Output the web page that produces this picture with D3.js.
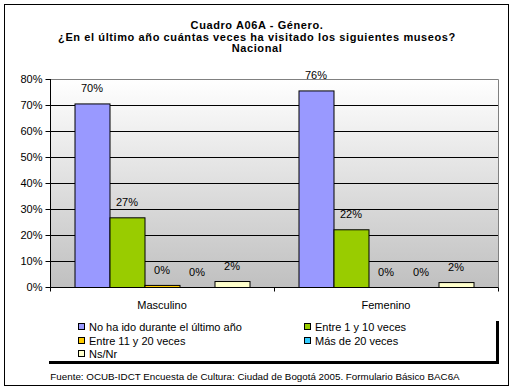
<!DOCTYPE html>
<html><head><meta charset="utf-8">
<script src="https://cdn.jsdelivr.net/npm/d3@7"></script>
<style>
body{margin:0;background:#fff;}
svg{display:block;font-family:"Liberation Sans",Arial,sans-serif;}
</style></head><body>
<svg id="c" width="515" height="391"></svg>
<script>
const categories = ["Masculino", "Femenino"];
const seriesNames = ["No ha ido durante el último año", "Entre 1 y 10 veces", "Entre 11 y  20 veces", "Más de 20 veces", "Ns/Nr"];
const seriesColors = ["#9999FF", "#99CC00", "#FFCC00", "#33CCFF", "#FFFFCC"];
const valuesMasculino = [70.6, 26.8, 0.8, 0, 2.3];
const valuesFemenino = [75.6, 22.2, 0, 0, 1.9];
const labelsMasculino = ["70%", "27%", "0%", "0%", "2%"];
const labelsFemenino = ["76%", "22%", "0%", "0%", "2%"];
const yTicks = [0, 10, 20, 30, 40, 50, 60, 70, 80];
const titleLines = ["Cuadro A06A - Género.", "¿En el último año cuántas veces ha visitado los siguientes museos?", "Nacional"];
const sourceText = "Fuente: OCUB-IDCT Encuesta de Cultura: Ciudad de Bogotá 2005. Formulario Básico BAC6A";

const data = [
  {cat: categories[0], vals: valuesMasculino, labels: labelsMasculino},
  {cat: categories[1], vals: valuesFemenino, labels: labelsFemenino}
];

const svg = d3.select("#c");
const L = 50, R = 498, T = 79, B = 287;

// outer border
svg.append("rect").attr("x", 4.5).attr("y", 4.5).attr("width", 504).attr("height", 381)
  .attr("fill", "#fff").attr("stroke", "#000").attr("stroke-width", 1);

// title
titleLines.forEach((t, i) => {
  svg.append("text").attr("x", 257).attr("y", 29 + i * 11.5)
    .attr("text-anchor", "middle").attr("font-weight", "bold").attr("font-size", 11)
    .attr("letter-spacing", 0.6)
    .text(t);
});

const y = d3.scaleLinear().domain([0, 80]).range([B, T]);
const x0 = d3.scaleBand().domain(categories).range([L, R]);
const bw = x0.bandwidth();
const x1 = d3.scaleBand().domain(seriesNames).range([24.5, bw - 24.5]);

// gradient background
const defs = svg.append("defs");
const g = defs.append("linearGradient").attr("id", "bg").attr("x1", 0).attr("y1", 0).attr("x2", 0).attr("y2", 1);
g.append("stop").attr("offset", "0%").attr("stop-color", "#ffffff");
g.append("stop").attr("offset", "100%").attr("stop-color", "#c0c0c0");
svg.append("rect").attr("x", L).attr("y", T).attr("width", R - L).attr("height", B - T).attr("fill", "url(#bg)");

// gridlines
svg.append("g").selectAll("line").data(yTicks.filter(v => v > 0 && v < 80)).join("line")
  .attr("x1", L).attr("x2", R).attr("y1", d => y(d) + 0.5).attr("y2", d => y(d) + 0.5)
  .attr("stroke", "#000").attr("stroke-width", 1);
// top & right border (gray)
svg.append("path").attr("d", `M${L},${T + 0.5}H${R + 0.5}V${B}`).attr("fill", "none").attr("stroke", "#808080");

// bars
const groups = svg.append("g").selectAll("g").data(data).join("g")
  .attr("transform", d => `translate(${x0(d.cat)},0)`);
groups.selectAll("rect").data(d => d.vals.map((v, i) => ({v, i}))).join("rect")
  .attr("x", d => x1(seriesNames[d.i]) + 0.5)
  .attr("y", d => y(d.v) + 0.5)
  .attr("width", x1.bandwidth())
  .attr("height", d => Math.max(0, B - y(d.v)))
  .attr("fill", d => seriesColors[d.i])
  .attr("stroke", "#000").attr("stroke-width", 1)
  .style("display", d => d.v > 0 ? null : "none");
groups.selectAll("text").data(d => d.vals.map((v, i) => ({v, i, lab: d.labels[i]}))).join("text")
  .attr("x", d => x1(seriesNames[d.i]) + x1.bandwidth() / 2)
  .attr("y", d => y(d.v) - 11)
  .attr("text-anchor", "middle").attr("font-size", 11)
  .text(d => d.lab);

// y axis
const yAxis = svg.append("g").attr("transform", `translate(${L + 0.5},0)`)
  .call(d3.axisLeft(y).tickValues(yTicks).tickFormat(d => d + "%").tickSize(5).tickPadding(3));
yAxis.select(".domain").attr("d", `M0,${T}V${B + 0.5}`).attr("stroke", "#000");
yAxis.selectAll(".tick line").attr("stroke", "#000");
yAxis.selectAll("text").attr("font-size", 11).attr("font-family", "Liberation Sans, Arial, sans-serif").attr("fill", "#000");

// x axis
const xAxisG = svg.append("g").attr("transform", `translate(0,${B + 0.5})`);
xAxisG.append("line").attr("x1", L).attr("x2", R + 0.5).attr("y1", 0).attr("y2", 0).attr("stroke", "#000");
xAxisG.selectAll("line.tk").data([L, ...categories.map(c => x0(c) + bw)]).join("line").attr("class", "tk")
  .attr("x1", d => d + 0.5).attr("x2", d => d + 0.5).attr("y1", 0).attr("y2", 4).attr("stroke", "#000");
xAxisG.selectAll("text").data(categories).join("text")
  .attr("x", d => x0(d) + bw / 2).attr("y", 21)
  .attr("text-anchor", "middle").attr("font-size", 11).text(d => d);

// legend shadow
svg.append("path").attr("d", "M49,362.5H497.5V321").attr("fill", "none").attr("stroke", "#000").attr("stroke-width", 3);

// legend
const legPos = [[78, 326], [304, 326], [78, 340], [304, 340], [78, 353]];
const leg = svg.append("g").selectAll("g").data(seriesNames).join("g")
  .attr("transform", (d, i) => `translate(${legPos[i][0]},${legPos[i][1]})`);
leg.append("rect").attr("x", 0.5).attr("y", -2.5).attr("width", 6).attr("height", 6)
  .attr("fill", (d, i) => seriesColors[i]).attr("stroke", "#000");
leg.append("text").attr("x", 11).attr("y", 4.5).attr("font-size", 11).text(d => d);

// source
svg.append("text").attr("x", 255).attr("y", 379.5).attr("text-anchor", "middle").attr("font-size", 9.8).text(sourceText);
</script>
</body></html>
